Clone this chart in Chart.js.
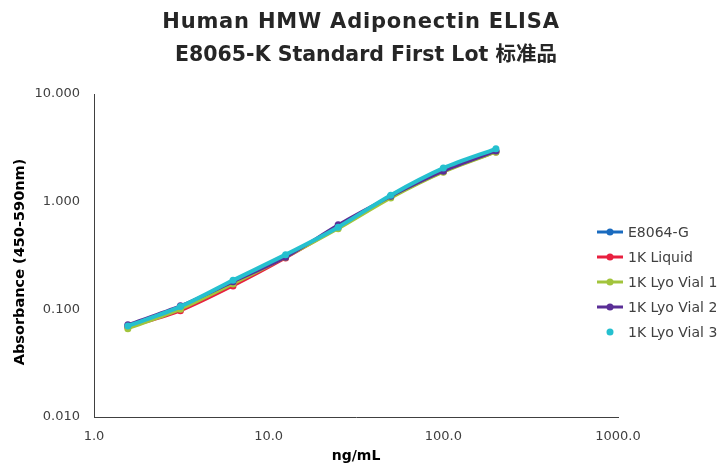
<!DOCTYPE html>
<html>
<head>
<meta charset="utf-8">
<script src="https://cdn.jsdelivr.net/npm/chart.js@4"></script>
<style>
  body { margin: 0; background: #fff; }
  #wrap { width: 722px; height: 465px; }
</style>
</head>
<body>
<div id="wrap"><canvas id="grafica" width="722" height="465"></canvas></div>
<script>
// concentraciones del estandar (ng/mL)
var conc = [1.5625, 3.125, 6.25, 12.5, 25, 50, 100, 200];

// absorbancias por lote
var e8064g   = [0.070, 0.104, 0.178, 0.310, 0.585, 1.12, 1.95, 2.95];
var liquid1k = [0.068, 0.097, 0.165, 0.300, 0.575, 1.10, 1.90, 2.90];
var lyoVial1 = [0.066, 0.100, 0.172, 0.305, 0.560, 1.08, 1.88, 2.88];
var lyoVial2 = [0.072, 0.108, 0.180, 0.305, 0.610, 1.12, 1.92, 2.95];
var lyoVial3 = [0.070, 0.106, 0.186, 0.322, 0.580, 1.15, 2.05, 3.10];

var seriesNames = ['E8064-G', '1K Liquid', '1K Lyo Vial 1', '1K Lyo Vial 2', '1K Lyo Vial 3'];
var seriesData = [e8064g, liquid1k, lyoVial1, lyoVial2, lyoVial3];
var colores = ['#1a6bbf', '#e8203f', '#a2c43c', '#5a2e96', '#25c0cf'];

var titulo = ['Human HMW Adiponectin ELISA', 'E8065-K Standard First Lot 标准品'];
var tituloY = 'Absorbance (450-590nm)';

var xTicks = [1, 10, 100, 1000];
var yTicks = [0.01, 0.1, 1, 10];

var FONT = '"DejaVu Sans", "Noto Sans CJK SC", sans-serif';

function puntos(vals) {
    return vals.map(function (v, i) { return { x: conc[i], y: v }; });
}

var datasets = seriesData.map(function (vals, i) {
    return {
        label: seriesNames[i],
        data: puntos(vals),
        borderColor: colores[i],
        backgroundColor: colores[i],
        borderWidth: i === 4 ? 4 : 3,
        pointRadius: 3.5,
        pointBorderWidth: 0,
        tension: 0.3,
        order: 5 - i,
        legendLine: i !== 4
    };
});

// titulo, titulo del eje Y y leyenda dibujados a mano
var extrasPlugin = {
    id: 'extrasManual',
    afterDraw: function (chart) {
        var ctx = chart.ctx;
        ctx.save();
        // titulo centrado en todo el lienzo
        ctx.fillStyle = '#262626';
        ctx.textAlign = 'center';
        ctx.textBaseline = 'middle';
        ctx.font = 'bold 21px ' + FONT;
        ctx.letterSpacing = '0.8px';
        ctx.fillText(titulo[0], 361, 23);
        ctx.font = 'bold 20.5px ' + FONT;
        ctx.letterSpacing = '0px';
        ctx.fillText(titulo[1], 366, 56);

        // titulo eje Y
        ctx.save();
        ctx.translate(20, 262);
        ctx.rotate(-Math.PI / 2);
        ctx.fillStyle = '#000';
        ctx.font = 'bold 14.5px ' + FONT;
        ctx.fillText(tituloY, 0, 0);
        ctx.restore();

        // leyenda
        ctx.textAlign = 'left';
        ctx.font = '14px ' + FONT;
        chart.data.datasets.forEach(function (ds, i) {
            var y = 232 + i * 25;
            if (ds.legendLine) {
                ctx.strokeStyle = ds.borderColor;
                ctx.lineWidth = 3;
                ctx.beginPath();
                ctx.moveTo(597, y);
                ctx.lineTo(623, y);
                ctx.stroke();
            }
            ctx.fillStyle = ds.borderColor;
            ctx.beginPath();
            ctx.arc(610, y, 3.5, 0, Math.PI * 2);
            ctx.fill();
            ctx.fillStyle = '#404040';
            ctx.fillText(ds.label, 628, y + 1);
        });
        ctx.restore();
    }
};

var ctx = document.getElementById('grafica').getContext('2d');
var grafica = new Chart(ctx, {
    type: 'line',
    data: { datasets: datasets },
    plugins: [extrasPlugin],
    options: {
        responsive: false,
        animation: false,
        layout: { padding: { left: 0, right: 104, top: 94, bottom: 0 } },
        plugins: {
            legend: { display: false },
            tooltip: { enabled: false },
            title: { display: false }
        },
        scales: {
            x: {
                type: 'logarithmic',
                min: 1,
                max: 1000,
                afterBuildTicks: function (s) { s.ticks = xTicks.map(function (v) { return { value: v }; }); },
                afterFit: function (s) { s.height = 48; },
                ticks: {
                    color: '#404040',
                    font: { family: FONT, size: 13 },
                    padding: 12,
                    maxRotation: 0,
                    callback: function (v) { return Number(v).toFixed(1); }
                },
                grid: { display: false, drawTicks: false },
                border: { color: '#404040', width: 1 },
                title: {
                    display: true,
                    text: 'ng/mL',
                    color: '#000',
                    font: { family: FONT, size: 14, weight: 'bold' },
                    padding: { top: 3, bottom: 0 }
                }
            },
            y: {
                type: 'logarithmic',
                min: 0.01,
                max: 10,
                afterBuildTicks: function (s) { s.ticks = yTicks.map(function (v) { return { value: v }; }); },
                afterFit: function (s) { s.width = 94; },
                ticks: {
                    color: '#404040',
                    font: { family: FONT, size: 13 },
                    padding: 14,
                    callback: function (v) { return Number(v).toFixed(3); }
                },
                grid: { display: false, drawTicks: false },
                border: { color: '#404040', width: 1 }
            }
        }
    }
});
</script>
</body>
</html>
